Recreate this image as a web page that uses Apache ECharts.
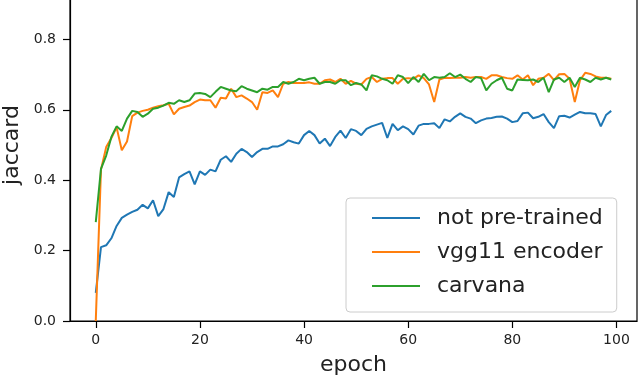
<!DOCTYPE html>
<html>
<head>
<meta charset="utf-8">
<script src="https://cdn.jsdelivr.net/npm/echarts@6/dist/echarts.min.js"></script>
<style>
  html, body { margin: 0; padding: 0; background: #fff; }
  #chart { width: 640px; height: 376px; }
</style>
</head>
<body>
<div id="chart"></div>
<script>
// epochs 0..99
const epochs = Array.from({ length: 100 }, (_, i) => i);

const notPretrained = [
  0.08, 0.21, 0.215, 0.235, 0.27, 0.293, 0.302, 0.31, 0.316, 0.33,
  0.32, 0.343, 0.298, 0.318, 0.366, 0.352, 0.408, 0.417, 0.425, 0.388,
  0.425, 0.415, 0.43, 0.425, 0.458, 0.468, 0.452, 0.475, 0.489, 0.48,
  0.466, 0.48, 0.489, 0.489, 0.496, 0.496, 0.502, 0.513, 0.508, 0.504,
  0.528, 0.54, 0.528, 0.504, 0.518, 0.497, 0.523, 0.541, 0.52, 0.545,
  0.54, 0.528, 0.546, 0.553, 0.558, 0.563, 0.52, 0.56, 0.542, 0.553,
  0.545, 0.53, 0.555, 0.56, 0.56, 0.562, 0.548, 0.573, 0.567, 0.58,
  0.59, 0.58, 0.575, 0.562, 0.57, 0.575, 0.577, 0.58, 0.581, 0.575,
  0.565, 0.568, 0.59, 0.592, 0.576, 0.58, 0.588, 0.565, 0.548, 0.582,
  0.583, 0.578, 0.586, 0.594, 0.59, 0.59, 0.588, 0.553, 0.585, 0.597
];

const vgg11Encoder = [
  0.0, 0.43, 0.494, 0.52, 0.55, 0.485, 0.51, 0.582, 0.592, 0.597,
  0.6, 0.606, 0.61, 0.613, 0.617, 0.587, 0.603, 0.608, 0.612, 0.622,
  0.629, 0.627, 0.627, 0.606, 0.634, 0.632, 0.66, 0.636, 0.641, 0.632,
  0.622, 0.6, 0.65, 0.648, 0.655, 0.636, 0.674, 0.679, 0.676, 0.676,
  0.676, 0.678, 0.674, 0.674, 0.684, 0.686, 0.679, 0.688, 0.674, 0.682,
  0.674, 0.672, 0.688, 0.693, 0.679, 0.688, 0.69, 0.69, 0.674, 0.688,
  0.69, 0.688, 0.698, 0.69, 0.672, 0.622, 0.686, 0.691, 0.69, 0.691,
  0.691, 0.693, 0.691, 0.693, 0.693, 0.688, 0.698, 0.698, 0.693, 0.69,
  0.688, 0.698, 0.686, 0.698, 0.67, 0.688, 0.691, 0.702, 0.684, 0.701,
  0.702, 0.688, 0.622, 0.684, 0.705, 0.702, 0.695, 0.691, 0.691, 0.688
];

const carvana = [
  0.281, 0.432, 0.47, 0.523, 0.553, 0.54, 0.575, 0.597, 0.594, 0.58,
  0.589, 0.603, 0.606, 0.612, 0.62, 0.617, 0.627, 0.622, 0.627, 0.646,
  0.648, 0.645, 0.636, 0.651, 0.665, 0.66, 0.655, 0.653, 0.667, 0.66,
  0.655, 0.65, 0.66, 0.657, 0.665, 0.665, 0.679, 0.674, 0.679, 0.688,
  0.684, 0.688, 0.691, 0.674, 0.679, 0.679, 0.674, 0.684, 0.684, 0.67,
  0.676, 0.672, 0.655, 0.698, 0.695, 0.688, 0.684, 0.674, 0.698, 0.693,
  0.676, 0.693, 0.679, 0.702, 0.684, 0.693, 0.691, 0.693, 0.704, 0.693,
  0.7, 0.688, 0.679, 0.693, 0.69, 0.655, 0.674, 0.684, 0.691, 0.66,
  0.655, 0.686, 0.685, 0.684, 0.686, 0.679, 0.691, 0.65, 0.686, 0.691,
  0.679, 0.691, 0.665, 0.691, 0.686, 0.679, 0.691, 0.686, 0.691, 0.686
];

const xTicks = [0, 20, 40, 60, 80, 100];
const yTicks = [0, 0.2, 0.4, 0.6, 0.8];

const seriesNames = ['not pre-trained', 'vgg11 encoder', 'carvana'];
const seriesColors = ['#1f77b4', '#ff7f0e', '#2ca02c'];
const seriesData = [notPretrained, vgg11Encoder, carvana];

const font = 'DejaVu Sans';
const chart = echarts.init(document.getElementById('chart'), null, { renderer: 'canvas' });

chart.setOption({
    animation: false,
    backgroundColor: '#fff',
    grid: {
        left: 70,
        right: 3,
        top: -31,
        bottom: 55,
        containLabel: false,
        outerBoundsMode: 'none',
        show: true,
        borderColor: '#000',
        borderWidth: 1.2,
        backgroundColor: 'transparent'
    },
    xAxis: {
        type: 'value',
        min: -4.95,
        max: 103.95,
        name: 'epoch',
        nameLocation: 'middle',
        nameGap: 33,
        nameTextStyle: { fontFamily: font, fontSize: 22, color: '#222' },
        axisLine: { show: true, onZero: false, lineStyle: { color: '#000', width: 1.2 } },
        splitLine: { show: false },
        axisTick: { show: true, length: 7, customValues: xTicks, lineStyle: { color: '#000', width: 1.2 } },
        axisLabel: { customValues: xTicks, margin: 12, fontFamily: font, fontSize: 14, color: '#222' }
    },
    yAxis: {
        type: 'value',
        min: 0,
        max: 1,
        name: 'jaccard',
        nameLocation: 'middle',
        nameGap: 46,
        nameRotate: 90,
        nameTextStyle: { fontFamily: font, fontSize: 22, color: '#222' },
        axisLine: { show: true, onZero: false, lineStyle: { color: '#000', width: 1.2 } },
        splitLine: { show: false },
        axisTick: { show: true, length: 7, customValues: yTicks, lineStyle: { color: '#000', width: 1.2 } },
        axisLabel: {
            customValues: yTicks,
            margin: 14,
            fontFamily: font,
            fontSize: 14,
            color: '#222',
            formatter: function (v) { return v.toFixed(1); }
        }
    },
    legend: {
        orient: 'vertical',
        left: 346,
        top: 198,
        padding: [8, 14, 14, 26],
        itemWidth: 48,
        itemHeight: 2,
        itemGap: 10,
        icon: 'rect',
        backgroundColor: 'rgba(255,255,255,0.85)',
        borderColor: '#cccccc',
        borderWidth: 1,
        borderRadius: 4,
        textStyle: { fontFamily: font, fontSize: 22, color: '#222', lineHeight: 24, padding: [0, 0, 0, 12] },
        data: seriesNames
    },
    series: seriesNames.map(function (name, k) {
        return {
            name: name,
            type: 'line',
            data: epochs.map(function (e, i) { return [e, seriesData[k][i]]; }),
            showSymbol: false,
            symbol: 'none',
            color: seriesColors[k],
            lineStyle: { color: seriesColors[k], width: 2 },
            z: 2 + k
        };
    })
});
</script>
</body>
</html>
